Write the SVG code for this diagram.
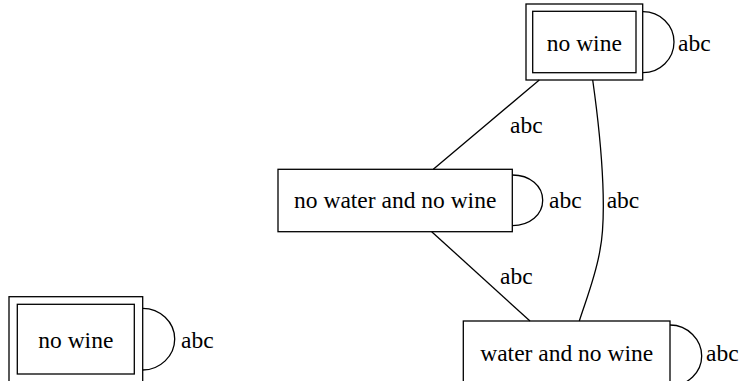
<svg xmlns="http://www.w3.org/2000/svg" width="739" height="381" viewBox="0 0 739 381">
<style>
.box{fill:none;stroke:#000;stroke-width:1.3}
.edge{fill:none;stroke:#000;stroke-width:1.3}
.t{font-family:'Liberation Serif','Times New Roman',Times,serif;font-size:23.5px;fill:#000}
.c{text-anchor:middle}
</style>
<rect width="739" height="381" fill="#fff"/>
<g id="connectors">
<path class="edge" d="M539.3,80 L433.3,169.3"/>
<path class="edge" d="M592.7,80 C604,160 606,220 600,250 C596,275 586,300 579.3,321"/>
<path class="edge" d="M431.7,231.7 L530,321"/>
<path class="edge" d="M643,11.7 C660,11.7 674,25 674,42 C674,59 660,72.7 643,72.7"/>
<path class="edge" d="M512.3,175 C530,175 542.7,186 542.7,200.3 C542.7,214.6 530,225.7 512.3,225.7"/>
<path class="edge" d="M142.7,308.3 C160,308.3 174.7,322 174.7,339 C174.7,356 160,370 142.7,370"/>
<path class="edge" d="M670,325 C688,325 701.7,340 701.7,356 C701.7,372 688,386 670,386"/>
<text class="t" font-family="Liberation Serif, serif" x="510" y="133.3">abc</text>
<text class="t" font-family="Liberation Serif, serif" x="606.7" y="208.3">abc</text>
<text class="t" font-family="Liberation Serif, serif" x="500" y="284">abc</text>
<text class="t" font-family="Liberation Serif, serif" x="678" y="50.5">abc</text>
<text class="t" font-family="Liberation Serif, serif" x="549" y="208.3">abc</text>
<text class="t" font-family="Liberation Serif, serif" x="181" y="348.3">abc</text>
<text class="t" font-family="Liberation Serif, serif" x="706" y="360.7">abc</text>
</g>
<g id="node_top_no_wine">
<rect class="box" x="526" y="4" width="116.7" height="76"/>
<rect class="box" x="532.7" y="11.3" width="103.3" height="61.4"/>
<text class="t c" font-family="Liberation Serif, serif" x="584.3" y="50.5">no wine</text>
</g>
<g id="node_no_water_and_no_wine">
<rect class="box" x="278" y="169.3" width="234.3" height="62.4"/>
<text class="t c" font-family="Liberation Serif, serif" x="395.2" y="207.7">no water and no wine</text>
</g>
<g id="node_left_no_wine">
<rect class="box" x="9" y="296.7" width="133.7" height="90"/>
<rect class="box" x="17.3" y="304.3" width="117" height="69.7"/>
<text class="t c" font-family="Liberation Serif, serif" x="75.8" y="348.3">no wine</text>
</g>
<g id="node_water_and_no_wine">
<rect class="box" x="463.3" y="321" width="206.7" height="70"/>
<text class="t c" font-family="Liberation Serif, serif" x="566.7" y="360.7">water and no wine</text>
</g>
</svg>
